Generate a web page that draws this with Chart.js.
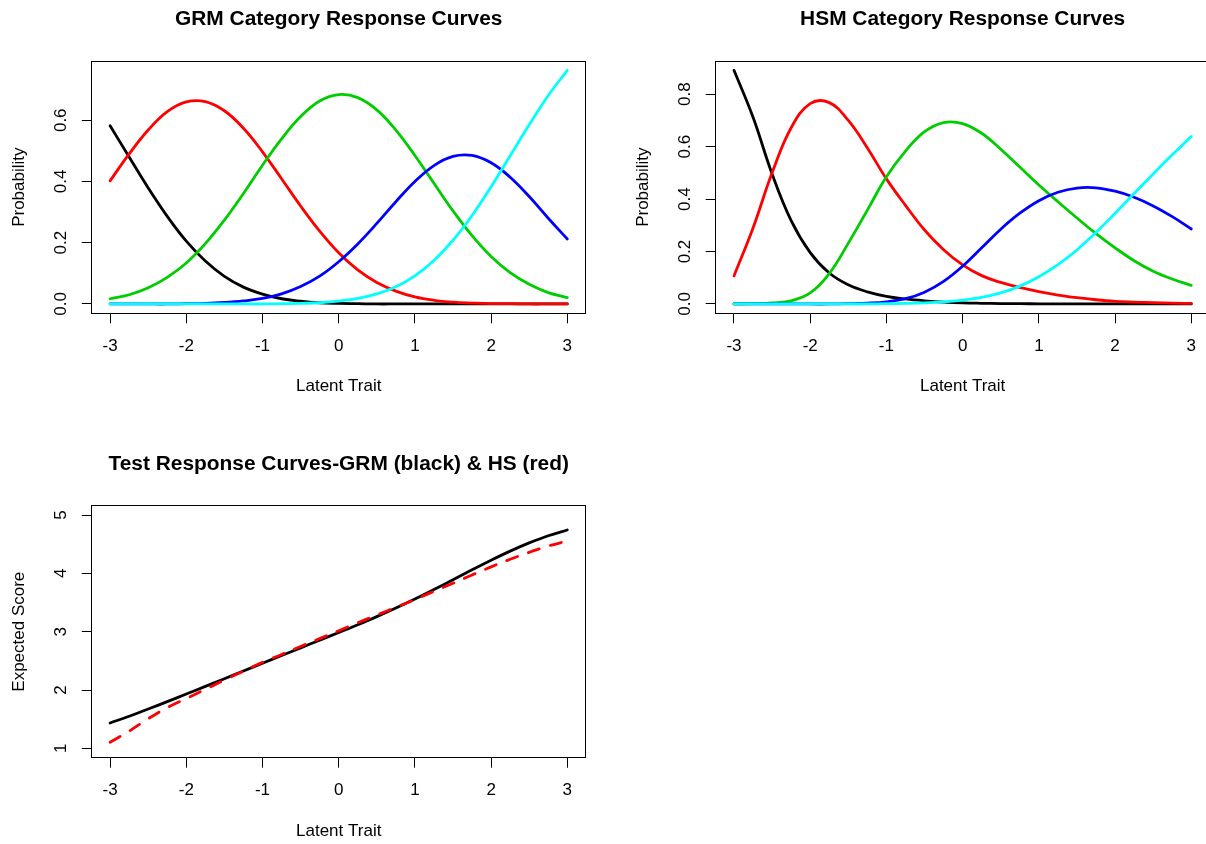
<!DOCTYPE html>
<html>
<head>
<meta charset="utf-8">
<title>GRM / HSM Category and Test Response Curves</title>
<script src="https://cdn.jsdelivr.net/npm/chart.js@4.4.1/dist/chart.umd.min.js"></script>
<style>
  html, body { margin: 0; padding: 0; background: #ffffff; }
  body { width: 1206px; height: 844px; overflow: hidden; position: relative; }
  canvas { position: absolute; display: block; }
</style>
</head>
<body>
<canvas id="grmPanel"></canvas>
<canvas id="hsmPanel"></canvas>
<canvas id="testPanel"></canvas>
<script>
// ---- latent trait grid ----
const theta = [-3, -2.75, -2.5, -2.25, -2, -1.75, -1.5, -1.25, -1, -0.75, -0.5, -0.25,
               0, 0.25, 0.5, 0.75, 1, 1.25, 1.5, 1.75, 2, 2.25, 2.5, 2.75, 3];

// ---- GRM category response probabilities (categories 1..5) ----
const grmCat1 = [0.582, 0.480, 0.379, 0.286, 0.205, 0.140, 0.090, 0.055, 0.032, 0.017, 0.009, 0.004,
                 0.002, 0.001, 0.000, 0.000, 0.000, 0.000, 0.000, 0.000, 0.000, 0.000, 0.000, 0.000, 0.000];
const grmCat2 = [0.402, 0.490, 0.568, 0.628, 0.660, 0.661, 0.631, 0.574, 0.497, 0.409, 0.320, 0.238,
                 0.167, 0.111, 0.070, 0.042, 0.023, 0.012, 0.006, 0.003, 0.001, 0.001, 0.000, 0.000, 0.000];
const grmCat3 = [0.017, 0.030, 0.053, 0.087, 0.134, 0.197, 0.274, 0.361, 0.453, 0.539, 0.612, 0.663,
                 0.684, 0.674, 0.634, 0.568, 0.485, 0.394, 0.304, 0.223, 0.155, 0.102, 0.064, 0.037, 0.021];
const grmCat4 = [0.000, 0.000, 0.000, 0.000, 0.001, 0.002, 0.005, 0.010, 0.018, 0.033, 0.057, 0.091,
                 0.138, 0.196, 0.263, 0.334, 0.400, 0.452, 0.482, 0.485, 0.461, 0.414, 0.351, 0.280, 0.212];
const grmCat5 = [0.000, 0.000, 0.000, 0.000, 0.000, 0.000, 0.000, 0.000, 0.000, 0.001, 0.002, 0.004,
                 0.009, 0.018, 0.033, 0.056, 0.092, 0.142, 0.208, 0.289, 0.383, 0.484, 0.585, 0.681, 0.763];

// ---- HSM category response probabilities (categories 1..5) ----
const hsmCat1 = [0.891, 0.712, 0.496, 0.318, 0.196, 0.118, 0.073, 0.046, 0.029, 0.019, 0.012, 0.007,
                 0.004, 0.0025, 0.0015, 0.001, 0.0006, 0.0004, 0.0002, 0.0001, 0.000, 0.000, 0.000, 0.000, 0.000];
const hsmCat2 = [0.107, 0.290, 0.500, 0.672, 0.764, 0.768, 0.700, 0.595, 0.477, 0.376, 0.282, 0.207,
                 0.149, 0.108, 0.082, 0.063, 0.047, 0.034, 0.024, 0.016, 0.010, 0.007, 0.005, 0.003, 0.002];
const hsmCat3 = [0.000, 0.001, 0.004, 0.012, 0.042, 0.116, 0.232, 0.358, 0.485, 0.583, 0.657, 0.692,
                 0.688, 0.651, 0.590, 0.522, 0.454, 0.390, 0.328, 0.268, 0.214, 0.165, 0.125, 0.095, 0.071];
const hsmCat4 = [0.000, 0.000, 0.000, 0.000, 0.000, 0.000, 0.001, 0.003, 0.008, 0.020, 0.045, 0.086,
                 0.144, 0.214, 0.285, 0.346, 0.394, 0.426, 0.442, 0.443, 0.430, 0.407, 0.374, 0.333, 0.286];
const hsmCat5 = [0.000, 0.000, 0.000, 0.000, 0.000, 0.000, 0.000, 0.000, 0.001, 0.002, 0.004, 0.008,
                 0.015, 0.025, 0.042, 0.068, 0.104, 0.150, 0.206, 0.273, 0.346, 0.421, 0.496, 0.569, 0.639];

// ---- expected test scores ----
const grmExpected = [1.435, 1.551, 1.674, 1.802, 1.931, 2.062, 2.193, 2.326, 2.459, 2.591, 2.723, 2.854,
                     2.985, 3.119, 3.258, 3.405, 3.560, 3.723, 3.891, 4.060, 4.225, 4.381, 4.522, 4.645, 4.743];
const hsExpected  = [1.105, 1.295, 1.508, 1.698, 1.855, 2.012, 2.172, 2.324, 2.475, 2.610, 2.747, 2.881,
                     3.017, 3.153, 3.286, 3.417, 3.553, 3.692, 3.830, 3.973, 4.112, 4.242, 4.361, 4.468, 4.556];

// ---- axis ticks ----
const xTicks = [-3, -2, -1, 0, 1, 2, 3];
const xTickLabels = ['-3', '-2', '-1', '0', '1', '2', '3'];
const grmProbTicks = [0, 0.2, 0.4, 0.6];
const grmProbLabels = ['0.0', '0.2', '0.4', '0.6'];
const hsmProbTicks = [0, 0.2, 0.4, 0.6, 0.8];
const hsmProbLabels = ['0.0', '0.2', '0.4', '0.6', '0.8'];
const scoreTicks = [1, 2, 3, 4, 5];
const scoreLabels = ['1', '2', '3', '4', '5'];
const scoreLimits = [1, 5];

// ---- styling ----
const FONT_FAMILY = "'Liberation Sans', Arial, Helvetica, sans-serif";
const LABEL_SIZE = 17;
const MAIN_SIZE = 20.9;
const LINE_H = 1.2;
const TICK_LEN = 10;
const Y_AXIS_W = 91;      // width reserved left of the plot box
const X_AXIS_H = 84;      // height reserved under the plot box
const X_LABEL_OFFSET = 32.9;   // tick-label centre below the box
const X_TITLE_OFFSET = 73.5;   // axis-title centre below the box
const Y_LABEL_OFFSET = 30.4;   // tick-label centre left of the box
const Y_TITLE_OFFSET = 72.3;   // axis-title centre left of the box
const LINE_W = 2.8;

const COLORS = ['#000000', '#FF0000', '#00CD00', '#0000FF', '#00FFFF'];

Chart.defaults.font.family = FONT_FAMILY;
Chart.defaults.font.size = LABEL_SIZE;
Chart.defaults.color = '#000000';

// plot box drawn under the curves
const frame = {
  id: 'frame',
  beforeDatasetsDraw(chart) {
    const {ctx, chartArea: a} = chart;
    const l = Math.floor(a.left) + 0.5, t = Math.floor(a.top) + 0.5;
    const r = Math.floor(a.right) + 0.5, b = Math.floor(a.bottom) + 0.5;
    ctx.save();
    ctx.strokeStyle = '#000000';
    ctx.lineWidth = 1;
    ctx.strokeRect(l, t, r - l, b - t);
    ctx.restore();
  }
};

function xy(ys) {
  return theta.map((t, i) => ({x: t, y: ys[i]}));
}

function curve(ys, color, order, dash) {
  return {
    data: xy(ys),
    borderColor: color,
    backgroundColor: color,
    borderWidth: LINE_W,
    borderDash: dash || [],
    borderCapStyle: 'round',
    borderJoinStyle: 'round',
    pointRadius: 0,
    fill: false,
    tension: 0.4,
    order: order
  };
}

function paddedRange(lo, hi) {
  const r = hi - lo;
  return [lo - 0.04 * r, hi + 0.04 * r];
}

function widestLabel(labels) {
  const ctx = document.createElement('canvas').getContext('2d');
  ctx.font = LABEL_SIZE + 'px ' + FONT_FAMILY;
  return Math.max(...labels.map(s => ctx.measureText(s).width));
}

const xRange = paddedRange(Math.min(...theta), Math.max(...theta));

function buildPanel(id, spec) {
  const c = spec.canvas, p = spec.plot;
  const el = document.getElementById(id);
  el.width = c.w; el.height = c.h;
  el.style.left = c.x + 'px'; el.style.top = c.y + 'px';
  el.style.width = c.w + 'px'; el.style.height = c.h + 'px';

  const labelLH = LABEL_SIZE * LINE_H;
  const mainLH = MAIN_SIZE * LINE_H;
  const titleTop = spec.titleMid - c.y - mainLH / 2;
  const titleBottom = p.top - c.y - titleTop - mainLH;
  const widest = widestLabel(spec.yTickLabels);

  const gridOpts = {
    display: true, drawOnChartArea: false, drawTicks: true,
    tickLength: TICK_LEN, color: '#000000', lineWidth: 1
  };

  return new Chart(el, {
    type: 'line',
    data: {datasets: spec.datasets},
    options: {
      responsive: false,
      animation: false,
      devicePixelRatio: 1,
      events: [],
      layout: {
        padding: {
          left: p.left - c.x - Y_AXIS_W,
          right: c.x + c.w - p.right,
          top: 0,
          bottom: c.y + c.h - p.bottom - X_AXIS_H
        }
      },
      plugins: {
        legend: {display: false},
        tooltip: {enabled: false},
        title: {
          display: true,
          text: spec.title,
          fullSize: false,
          color: '#000000',
          font: {size: MAIN_SIZE, weight: 'bold', lineHeight: LINE_H},
          padding: {top: titleTop, bottom: titleBottom}
        }
      },
      scales: {
        x: {
          type: 'linear',
          min: xRange[0],
          max: xRange[1],
          afterBuildTicks: s => { s.ticks = xTicks.map(v => ({value: v})); },
          afterFit: s => { s.height = X_AXIS_H; },
          ticks: {
            autoSkip: false, minRotation: 0, maxRotation: 0,
            padding: X_LABEL_OFFSET - TICK_LEN - labelLH / 2,
            color: '#000000',
            font: {size: LABEL_SIZE, lineHeight: LINE_H},
            callback: (v, i) => xTickLabels[i]
          },
          grid: gridOpts,
          border: {display: false},
          title: {
            display: true, text: 'Latent Trait', color: '#000000',
            font: {size: LABEL_SIZE, lineHeight: LINE_H},
            padding: {top: 0, bottom: X_AXIS_H - X_TITLE_OFFSET - labelLH / 2}
          }
        },
        y: {
          type: 'linear',
          min: spec.yRange[0],
          max: spec.yRange[1],
          afterBuildTicks: s => { s.ticks = spec.yTicks.map(v => ({value: v})); },
          afterFit: s => { s.width = Y_AXIS_W; },
          ticks: {
            autoSkip: false, minRotation: 90, maxRotation: 90, crossAlign: 'center',
            padding: Y_LABEL_OFFSET - TICK_LEN - widest / 2,
            color: '#000000',
            font: {size: LABEL_SIZE, lineHeight: LINE_H},
            callback: (v, i) => spec.yTickLabels[i]
          },
          grid: gridOpts,
          border: {display: false},
          title: {
            display: true, text: spec.yTitle, color: '#000000',
            font: {size: LABEL_SIZE, lineHeight: LINE_H},
            padding: {top: Y_AXIS_W - Y_TITLE_OFFSET - labelLH / 2, bottom: 0}
          }
        }
      }
    },
    plugins: [frame]
  });
}

const grmSeries = [grmCat1, grmCat2, grmCat3, grmCat4, grmCat5];
const hsmSeries = [hsmCat1, hsmCat2, hsmCat3, hsmCat4, hsmCat5];
const allOf = list => [].concat(...list);

// later categories are drawn on top of earlier ones
buildPanel('grmPanel', {
  canvas: {x: 0, y: 0, w: 603, h: 398},
  plot: {left: 91.8, top: 61, right: 585.6, bottom: 313.3},
  titleMid: 18.8,
  title: 'GRM Category Response Curves',
  yTitle: 'Probability',
  yTicks: grmProbTicks,
  yTickLabels: grmProbLabels,
  yRange: paddedRange(Math.min(...allOf(grmSeries)), Math.max(...allOf(grmSeries))),
  datasets: grmSeries.map((s, k) => curve(s, COLORS[k], grmSeries.length - k))
});

buildPanel('hsmPanel', {
  canvas: {x: 620, y: 0, w: 600, h: 398},
  plot: {left: 715.7, top: 61, right: 1209.6, bottom: 313.3},
  titleMid: 18.8,
  title: 'HSM Category Response Curves',
  yTitle: 'Probability',
  yTicks: hsmProbTicks,
  yTickLabels: hsmProbLabels,
  yRange: paddedRange(Math.min(...allOf(hsmSeries)), Math.max(...allOf(hsmSeries))),
  datasets: hsmSeries.map((s, k) => curve(s, COLORS[k], hsmSeries.length - k))
});

buildPanel('testPanel', {
  canvas: {x: 0, y: 445, w: 603, h: 398},
  plot: {left: 91.8, top: 505.7, right: 585.6, bottom: 757.7},
  titleMid: 464.2,
  title: 'Test Response Curves-GRM (black) & HS (red)',
  yTitle: 'Expected Score',
  yTicks: scoreTicks,
  yTickLabels: scoreLabels,
  yRange: paddedRange(scoreLimits[0], scoreLimits[1]),
  datasets: [
    curve(grmExpected, COLORS[0], 2),
    curve(hsExpected, COLORS[1], 1, [11.5, 11.5])
  ]
});
</script>
</body>
</html>
